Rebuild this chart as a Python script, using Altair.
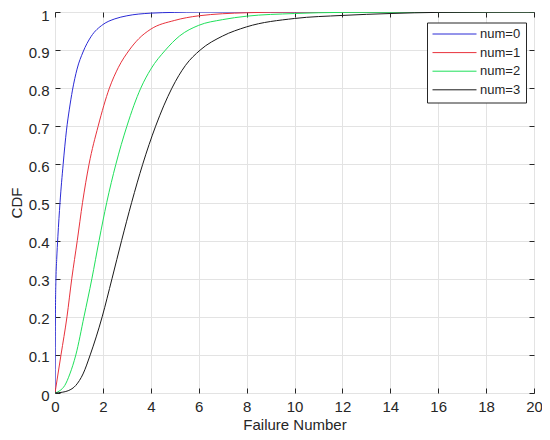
import altair as alt
import pandas as pd

series = ["num=0", "num=1", "num=2", "num=3"]
colors = ["#2b2bd6", "#e8323c", "#1fe05a", "#1a1a1a"]

x0 = [0, 0.01, 0.02, 0.04, 0.07, 0.12, 0.21, 0.34, 0.48, 0.6, 0.73, 0.92, 1.17, 1.5, 2.0, 2.5, 3.0, 4.0, 5.0, 6.0, 20.0]
y0 = [0, 0.12, 0.22, 0.3, 0.35, 0.41, 0.5, 0.6, 0.69, 0.745, 0.795, 0.85, 0.895, 0.935, 0.967, 0.982, 0.99, 0.997, 0.999, 1.0, 1.0]

x1 = [0, 0.25, 0.5, 0.7, 0.93, 1.15, 1.42, 1.8, 2.27, 2.65, 3.1, 3.5, 4.0, 5.0, 6.0, 8.0, 10.0, 20.0]
y1 = [0, 0.1, 0.2, 0.3, 0.4, 0.5, 0.6, 0.7, 0.8, 0.855, 0.9, 0.93, 0.955, 0.978, 0.99, 0.998, 1.0, 1.0]

x2 = [0, 0.2, 0.41, 0.62, 0.87, 1.21, 1.54, 1.84, 2.16, 2.54, 3.0, 3.58, 4.0, 4.61, 5.2, 6.0, 7.0, 8.0, 10.0, 12.0, 20.0]
y2 = [0, 0.006, 0.02, 0.05, 0.1, 0.2, 0.3, 0.4, 0.5, 0.6, 0.7, 0.8, 0.85, 0.9, 0.937, 0.965, 0.98, 0.989, 0.996, 0.999, 1.0]

x3 = [0, 0.3, 0.55, 0.87, 1.17, 1.47, 1.97, 2.38, 2.78, 3.2, 3.66, 4.2, 4.88, 5.45, 6.06, 7.0, 8.0, 10.0, 12.0, 14.0, 16.0, 20.0]
y3 = [0, 0.002, 0.006, 0.02, 0.05, 0.1, 0.2, 0.3, 0.4, 0.5, 0.6, 0.7, 0.8, 0.86, 0.9, 0.937, 0.961, 0.983, 0.991, 0.996, 0.999, 1.0]

x_ticks = list(range(0, 21, 2))
y_ticks = [round(i * 0.1, 1) for i in range(11)]

rows = []
for name, xs, ys in zip(series, [x0, x1, x2, x3], [y0, y1, y2, y3]):
    for i, (a, b) in enumerate(zip(xs, ys)):
        rows.append({"series": name, "x": a, "y": b, "order": i})
df = pd.DataFrame(rows)

FONT = "Liberation Sans"
TXT = "#262626"
GRID = "#e3e3e3"

xscale = alt.Scale(domain=[0, 20], nice=False, zero=False)
yscale = alt.Scale(domain=[0, 1], nice=False, zero=False)

common_axis = dict(tickSize=5, tickColor=TXT, tickWidth=1, domain=False,
                   labelFont=FONT, labelColor=TXT, titleFont=FONT, titleColor=TXT,
                   titleFontWeight="normal")

lines = alt.Chart(df).mark_line(strokeWidth=1, interpolate="monotone", clip=True).encode(
    x=alt.X("x:Q", scale=xscale,
            axis=alt.Axis(orient="bottom", offset=-5, values=x_ticks, grid=True, gridColor=GRID,
                          labelFontSize=15, labelPadding=6, labelFlush=False, labelOverlap=False,
                          title="Failure Number", titleFontSize=15, titleBaseline="alphabetic",
                          titleY=41, **common_axis)),
    y=alt.Y("y:Q", scale=yscale,
            axis=alt.Axis(orient="left", offset=-5, values=y_ticks, format="~g", grid=True, gridColor=GRID,
                          labelFontSize=15, labelPadding=6,
                          labelOffset={"condition": {"test": "datum.value == 1", "value": 3.5}, "value": 2},
                          labelOverlap=False,
                          title="CDF", titleFontSize=15, titleAngle=270, titleBaseline="alphabetic",
                          titleX=-39, titleY=190.5, titleAlign="center", **common_axis)),
    color=alt.Color("series:N", scale=alt.Scale(domain=series, range=colors),
                    legend=alt.Legend(title=None, orient="none", legendX=372, legendY=10.5,
                                      symbolType="stroke", symbolSize=1936, symbolStrokeWidth=1,
                                      clipHeight=13, labelFontSize=13, labelFont=FONT, labelColor=TXT,
                                      labelOffset=3, rowPadding=4.6, padding=5,
                                      strokeColor="#262626", fillColor="white", direction="vertical")),
    order="order:Q",
)

frame = alt.Chart(df).mark_line(opacity=0).encode(
    x=alt.X("x:Q", scale=xscale,
            axis=alt.Axis(orient="top", offset=-5, values=x_ticks, labels=False, grid=False,
                          title=None, **common_axis)),
    y=alt.Y("y:Q", scale=yscale,
            axis=alt.Axis(orient="right", offset=-5, values=y_ticks, labels=False, grid=False,
                          title=None, **common_axis)),
    detail="series:N",
)

chart = alt.layer(lines, frame).resolve_axis(x="independent", y="independent").properties(
    width=479, height=381,
    autosize=alt.AutoSizeParams(type="none"),
    padding={"left": 47, "top": 4, "right": 8, "bottom": 39},
    background="white",
).configure_view(stroke="#262626", strokeWidth=1)

chart.save("out.html", embed_options={"renderer": "svg", "actions": False})
